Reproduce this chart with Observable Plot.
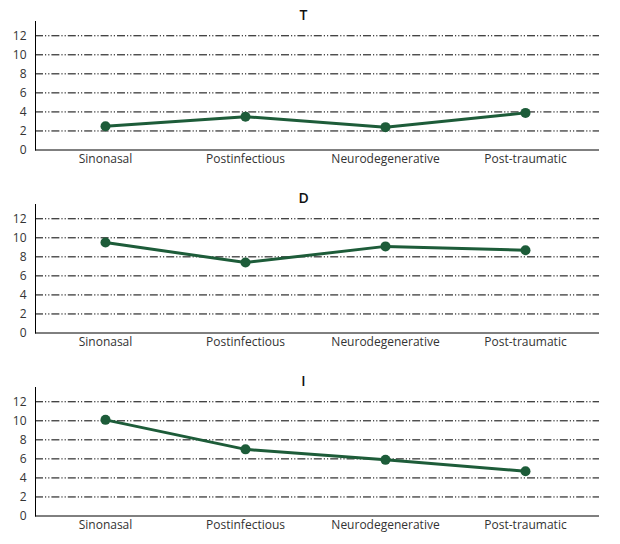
<!DOCTYPE html>
<html>
<head>
<meta charset="utf-8">
<script src="https://cdn.jsdelivr.net/npm/d3@7"></script>
<script src="https://cdn.jsdelivr.net/npm/@observablehq/plot@0.6"></script>
<style>
  html, body { margin: 0; padding: 0; background: #fff; overflow: hidden; }
  #chart svg { display: block; }
</style>
</head>
<body>
<div id="chart"></div>
<script>
const categories = ["Sinonasal", "Postinfectious", "Neurodegenerative", "Post-traumatic"];
const panelTitles = ["T", "D", "I"];
const valuesT = [2.5, 3.5, 2.4, 3.9];
const valuesD = [9.5, 7.4, 9.1, 8.7];
const valuesI = [10.1, 7.0, 5.9, 4.7];
const yTicks = [0, 2, 4, 6, 8, 10, 12];
const gridTicks = [2, 4, 6, 8, 10, 12];

const series = [valuesT, valuesD, valuesI];
const green = "#1d5c39";
const font = "'Open Sans', sans-serif";

const container = document.getElementById("chart");

series.forEach((vals, i) => {
  const data = categories.map((c, j) => ({category: c, value: vals[j]}));
  const chart = Plot.plot({
    width: 620,
    height: 183,
    marginLeft: 35,
    marginRight: 21,
    marginTop: 21,
    marginBottom: 33.5,
    style: {fontFamily: font, fontSize: "12px", color: "#333", background: "#fff"},
    x: {type: "point", domain: categories, range: [35, 595], padding: 0.5, label: null},
    y: {domain: [0, 13.5], label: null},
    marks: [
      Plot.ruleY(gridTicks, {stroke: "#000", strokeWidth: 1, strokeDasharray: "8,2,1.2,2,1.2,2"}),
      Plot.ruleY([0], {stroke: "#000", strokeWidth: 1}),
      Plot.frame({anchor: "left", stroke: "#000", strokeWidth: 1}),
      Plot.axisY({ticks: yTicks, tickSize: 0, tickPadding: 9, label: null, fontSize: 12}),
      Plot.axisX({tickSize: 0, tickPadding: 4, label: null, fontSize: 12}),
      Plot.line(data, {x: "category", y: "value", stroke: green, strokeWidth: 3}),
      Plot.dot(data, {x: "category", y: "value", r: 5, fill: green, stroke: "none"}),
      Plot.text([panelTitles[i]], {frameAnchor: "top", dx: -14, dy: -6, lineAnchor: "middle", text: d => d, fontSize: 14, fontWeight: 600, fill: "#111"})
    ]
  });
  container.appendChild(chart);
});
</script>
</body>
</html>
